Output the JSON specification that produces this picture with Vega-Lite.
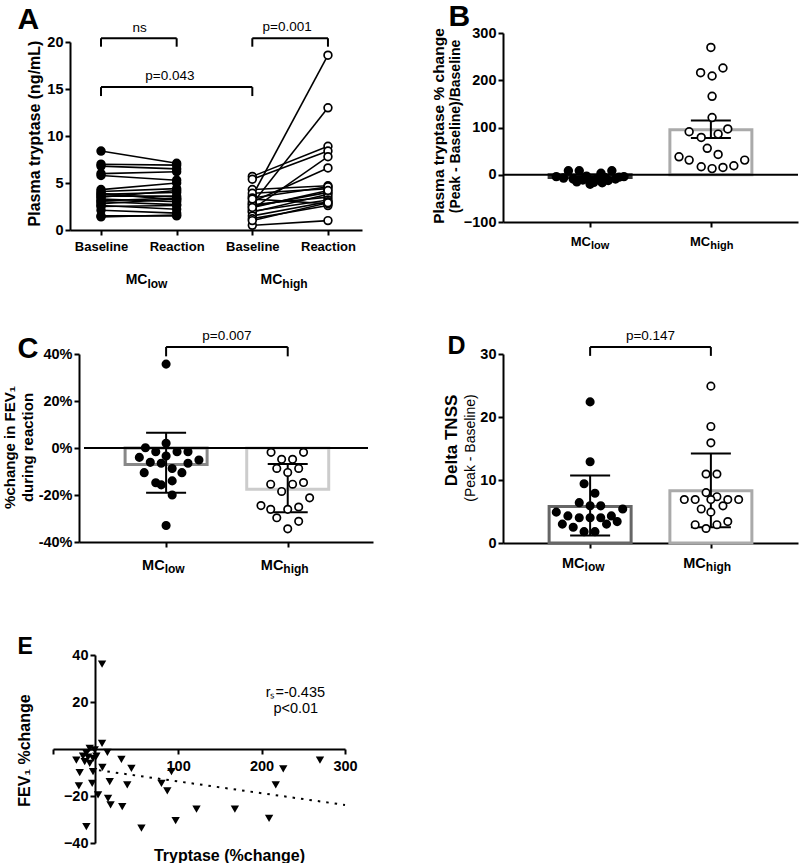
{
"$schema": "https://vega.github.io/schema/vega-lite/v6.json",
"padding": {"left": 2, "top": 1, "right": 0, "bottom": 0},
"config": {
  "font": "Liberation Sans",
  "view": {"stroke": null},
  "axis": {"grid": false, "domainColor": "#000", "domainWidth": 2, "tickColor": "#000", "tickWidth": 2, "tickSize": 5, "labelColor": "#000", "labelFont": "Liberation Sans", "labelFontSize": 14.5, "labelFontWeight": "bold", "labelPadding": 2, "labelFlush": false, "labelOverlap": false, "titleColor": "#000", "titleFont": "Liberation Sans", "titleFontWeight": "bold", "titleFontSize": 16},
  "text": {"font": "Liberation Sans", "fontSize": 13.5, "color": "#000"}
},
"datasets": {
  "A": [
    {"s":"L1","g":"low","p":1,"v":8.4},{"s":"L1","g":"low","p":2,"v":7.1},
    {"s":"L2","g":"low","p":1,"v":7.0},{"s":"L2","g":"low","p":2,"v":6.9},
    {"s":"L3","g":"low","p":1,"v":6.8},{"s":"L3","g":"low","p":2,"v":6.5},
    {"s":"L4","g":"low","p":1,"v":6.0},{"s":"L4","g":"low","p":2,"v":6.2},
    {"s":"L5","g":"low","p":1,"v":5.8},{"s":"L5","g":"low","p":2,"v":5.3},
    {"s":"L6","g":"low","p":1,"v":4.3},{"s":"L6","g":"low","p":2,"v":5.0},
    {"s":"L7","g":"low","p":1,"v":4.1},{"s":"L7","g":"low","p":2,"v":4.4},
    {"s":"L8","g":"low","p":1,"v":3.9},{"s":"L8","g":"low","p":2,"v":3.2},
    {"s":"L9","g":"low","p":1,"v":3.8},{"s":"L9","g":"low","p":2,"v":4.0},
    {"s":"L10","g":"low","p":1,"v":3.6},{"s":"L10","g":"low","p":2,"v":3.6},
    {"s":"L11","g":"low","p":1,"v":3.5},{"s":"L11","g":"low","p":2,"v":4.2},
    {"s":"L12","g":"low","p":1,"v":3.3},{"s":"L12","g":"low","p":2,"v":3.0},
    {"s":"L13","g":"low","p":1,"v":3.1},{"s":"L13","g":"low","p":2,"v":3.4},
    {"s":"L14","g":"low","p":1,"v":3.0},{"s":"L14","g":"low","p":2,"v":2.7},
    {"s":"L15","g":"low","p":1,"v":2.8},{"s":"L15","g":"low","p":2,"v":3.3},
    {"s":"L16","g":"low","p":1,"v":2.6},{"s":"L16","g":"low","p":2,"v":2.2},
    {"s":"L17","g":"low","p":1,"v":2.5},{"s":"L17","g":"low","p":2,"v":2.6},
    {"s":"L18","g":"low","p":1,"v":2.1},{"s":"L18","g":"low","p":2,"v":1.8},
    {"s":"L19","g":"low","p":1,"v":1.5},{"s":"L19","g":"low","p":2,"v":1.5},
    {"s":"L20","g":"low","p":1,"v":1.4},{"s":"L20","g":"low","p":2,"v":1.6},
    {"s":"H1","g":"high","p":3,"v":3.6},{"s":"H1","g":"high","p":4,"v":18.6},
    {"s":"H2","g":"high","p":3,"v":2.8},{"s":"H2","g":"high","p":4,"v":13.0},
    {"s":"H3","g":"high","p":3,"v":5.7},{"s":"H3","g":"high","p":4,"v":8.9},
    {"s":"H4","g":"high","p":3,"v":5.4},{"s":"H4","g":"high","p":4,"v":8.4},
    {"s":"H5","g":"high","p":3,"v":2.2},{"s":"H5","g":"high","p":4,"v":7.8},
    {"s":"H6","g":"high","p":3,"v":3.0},{"s":"H6","g":"high","p":4,"v":6.6},
    {"s":"H7","g":"high","p":3,"v":4.3},{"s":"H7","g":"high","p":4,"v":4.7},
    {"s":"H8","g":"high","p":3,"v":3.9},{"s":"H8","g":"high","p":4,"v":4.4},
    {"s":"H9","g":"high","p":3,"v":2.5},{"s":"H9","g":"high","p":4,"v":4.0},
    {"s":"H10","g":"high","p":3,"v":3.4},{"s":"H10","g":"high","p":4,"v":4.6},
    {"s":"H11","g":"high","p":3,"v":1.9},{"s":"H11","g":"high","p":4,"v":3.8},
    {"s":"H12","g":"high","p":3,"v":2.7},{"s":"H12","g":"high","p":4,"v":3.5},
    {"s":"H13","g":"high","p":3,"v":2.0},{"s":"H13","g":"high","p":4,"v":3.2},
    {"s":"H14","g":"high","p":3,"v":1.5},{"s":"H14","g":"high","p":4,"v":3.0},
    {"s":"H15","g":"high","p":3,"v":1.2},{"s":"H15","g":"high","p":4,"v":2.6},
    {"s":"H16","g":"high","p":3,"v":3.3},{"s":"H16","g":"high","p":4,"v":2.8},
    {"s":"H17","g":"high","p":3,"v":0.5},{"s":"H17","g":"high","p":4,"v":1.0},
    {"s":"H18","g":"high","p":3,"v":2.4},{"s":"H18","g":"high","p":4,"v":4.2},
    {"s":"H19","g":"high","p":3,"v":1.0},{"s":"H19","g":"high","p":4,"v":2.9}
  ],
  "brA": [
    {"x":1,"x2":2,"y":20.4,"y2":20.4},{"x":1,"x2":1,"y":20.4,"y2":19.5},{"x":2,"x2":2,"y":20.4,"y2":19.5},
    {"x":3,"x2":4,"y":20.4,"y2":20.4},{"x":3,"x2":3,"y":20.4,"y2":19.5},{"x":4,"x2":4,"y":20.4,"y2":19.5},
    {"x":1,"x2":3,"y":15.2,"y2":15.2},{"x":1,"x2":1,"y":15.2,"y2":14.25},{"x":3,"x2":3,"y":15.2,"y2":14.25}
  ],
  "txA": [
    {"x":1.51,"y":21.06,"t":"ns"},{"x":3.46,"y":21.2,"t":"p=0.001"},{"x":1.91,"y":15.96,"t":"p=0.043"}
  ],
  "barB": [{"g":1,"m":-6,"lo":-8,"hi":-4},{"g":2,"m":95,"lo":78,"hi":115}],
  "ptB": [
    {"g":1,"x":0.72,"y":-4},{"g":1,"x":0.78,"y":-7},{"g":1,"x":0.82,"y":8.5},{"g":1,"x":0.86,"y":-9},{"g":1,"x":0.91,"y":8.5},
    {"g":1,"x":0.94,"y":-11},{"g":1,"x":0.97,"y":-3},{"g":1,"x":1.0,"y":-14},{"g":1,"x":1.0,"y":-20},{"g":1,"x":1.03,"y":-16},
    {"g":1,"x":1.06,"y":-8},{"g":1,"x":1.09,"y":3},{"g":1,"x":1.12,"y":-6},{"g":1,"x":1.15,"y":-12},{"g":1,"x":1.18,"y":8.5},
    {"g":1,"x":1.21,"y":-9},{"g":1,"x":1.24,"y":-5},{"g":1,"x":1.28,"y":-4},{"g":1,"x":0.89,"y":-15},{"g":1,"x":1.1,"y":-17},
    {"g":2,"x":2.0,"y":269.5},{"g":2,"x":1.915,"y":216},{"g":2,"x":2.01,"y":209},{"g":2,"x":2.1,"y":226},{"g":2,"x":2.01,"y":166},
    {"g":2,"x":2.01,"y":121},{"g":2,"x":1.82,"y":91},{"g":2,"x":2.14,"y":97},{"g":2,"x":1.92,"y":79},{"g":2,"x":2.06,"y":86},
    {"g":2,"x":1.97,"y":56},{"g":2,"x":2.06,"y":43},{"g":2,"x":1.736,"y":38},{"g":2,"x":1.82,"y":31},{"g":2,"x":2.28,"y":31},
    {"g":2,"x":1.92,"y":17},{"g":2,"x":2.01,"y":13},{"g":2,"x":2.1,"y":15.5},{"g":2,"x":2.19,"y":19}
  ],
  "barC": [{"g":1,"m":-7,"lo":-19,"hi":6.5},{"g":2,"m":-17.6,"lo":-27.3,"hi":-6.8}],
  "ptC": [
    {"g":1,"x":1.0,"y":35.7},{"g":1,"x":1.0,"y":2.0},{"g":1,"x":0.83,"y":0.1},{"g":1,"x":0.915,"y":-1.6},{"g":1,"x":1.09,"y":-1.6},
    {"g":1,"x":1.18,"y":-1.6},{"g":1,"x":0.78,"y":-4.0},{"g":1,"x":1.0,"y":-3.4},{"g":1,"x":1.27,"y":-5.1},{"g":1,"x":0.87,"y":-6.1},
    {"g":1,"x":0.96,"y":-6.5},{"g":1,"x":1.18,"y":-6.5},{"g":1,"x":1.05,"y":-8.7},{"g":1,"x":0.82,"y":-10.5},{"g":1,"x":1.13,"y":-10.5},
    {"g":1,"x":0.915,"y":-14.8},{"g":1,"x":0.96,"y":-15.7},{"g":1,"x":1.05,"y":-14.0},{"g":1,"x":1.05,"y":-20.0},{"g":1,"x":1.0,"y":-33.0},
    {"g":2,"x":1.863,"y":-1.85},{"g":2,"x":2.13,"y":-1.85},{"g":2,"x":1.95,"y":-4.8},{"g":2,"x":2.04,"y":-4.8},{"g":2,"x":1.91,"y":-8.7},
    {"g":2,"x":2.09,"y":-8.7},{"g":2,"x":2.0,"y":-10.4},{"g":2,"x":1.86,"y":-15.4},{"g":2,"x":2.04,"y":-15.4},{"g":2,"x":2.13,"y":-14.7},
    {"g":2,"x":1.95,"y":-18.5},{"g":2,"x":2.18,"y":-21.2},{"g":2,"x":1.78,"y":-24.5},{"g":2,"x":1.86,"y":-26.1},{"g":2,"x":2.0,"y":-26.1},
    {"g":2,"x":2.09,"y":-25.1},{"g":2,"x":1.91,"y":-29.7},{"g":2,"x":2.09,"y":-31.2},{"g":2,"x":2.0,"y":-34.4}
  ],
  "brC": [{"x":1,"x2":2,"y":43,"y2":43},{"x":1,"x2":1,"y":43,"y2":39},{"x":2,"x2":2,"y":43,"y2":39}],
  "txC": [{"x":1.5,"y":46,"t":"p=0.007"}],
  "barD": [{"g":1,"m":5.8,"lo":1.2,"hi":10.7},{"g":2,"m":8.3,"lo":2.5,"hi":14.2}],
  "ptD": [
    {"g":1,"x":1.0,"y":22.4},{"g":1,"x":1.0,"y":12.9},{"g":1,"x":0.95,"y":9.4},{"g":1,"x":1.04,"y":7.9},{"g":1,"x":0.91,"y":6.4},
    {"g":1,"x":1.0,"y":5.9},{"g":1,"x":1.088,"y":5.9},{"g":1,"x":1.27,"y":5.4},{"g":1,"x":0.72,"y":4.9},{"g":1,"x":0.816,"y":4.3},
    {"g":1,"x":0.91,"y":4.0},{"g":1,"x":1.0,"y":4.0},{"g":1,"x":1.088,"y":4.0},{"g":1,"x":1.176,"y":4.3},{"g":1,"x":0.77,"y":3.0},
    {"g":1,"x":0.86,"y":2.5},{"g":1,"x":1.136,"y":3.0},{"g":1,"x":1.224,"y":3.4},{"g":1,"x":0.95,"y":1.8},{"g":1,"x":1.04,"y":1.8},
    {"g":2,"x":2.0,"y":24.9},{"g":2,"x":2.0,"y":18.5},{"g":2,"x":2.0,"y":15.9},{"g":2,"x":1.96,"y":10.95},{"g":2,"x":2.05,"y":10.95},
    {"g":2,"x":1.96,"y":8.0},{"g":2,"x":2.05,"y":7.35},{"g":2,"x":1.78,"y":6.9},{"g":2,"x":1.87,"y":6.9},{"g":2,"x":2.0,"y":6.9},
    {"g":2,"x":2.14,"y":6.9},{"g":2,"x":2.23,"y":6.9},{"g":2,"x":1.92,"y":5.4},{"g":2,"x":2.0,"y":4.9},{"g":2,"x":2.1,"y":5.9},
    {"g":2,"x":1.87,"y":2.9},{"g":2,"x":1.96,"y":2.3},{"g":2,"x":2.05,"y":2.9},{"g":2,"x":2.14,"y":3.4}
  ],
  "brD": [{"x":1,"x2":2,"y":31.1,"y2":31.1},{"x":1,"x2":1,"y":31.1,"y2":29.7},{"x":2,"x2":2,"y":31.1,"y2":29.7}],
  "txD": [{"x":1.5,"y":32.2,"t":"p=0.147"}],
  "ptE": [
    {"x":8.8,"y":36.1},{"x":8.8,"y":2.4},{"x":-6,"y":0.3},{"x":-10,"y":-1.8},{"x":-14,"y":-3.0},{"x":15.2,"y":-1.4},
    {"x":-22,"y":-4.7},{"x":32,"y":-4.4},{"x":-18,"y":-10.1},{"x":9.2,"y":-7.8},{"x":44,"y":-8.2},{"x":-2,"y":-9.6},
    {"x":92,"y":-9.6},{"x":226,"y":-8.5},{"x":270,"y":-4.7},{"x":-19,"y":-15.7},{"x":-3,"y":-14.6},{"x":18,"y":-13.9},
    {"x":39,"y":-15.3},{"x":80,"y":-14.6},{"x":87,"y":-17.8},{"x":217,"y":-15.3},{"x":4,"y":-19.5},{"x":16,"y":-21},
    {"x":19,"y":-23.8},{"x":33,"y":-24.5},{"x":122,"y":-25.6},{"x":168,"y":-25.6},{"x":209,"y":-29.5},{"x":97,"y":-30.5},
    {"x":56,"y":-33.7},{"x":-10,"y":-33},{"x":-2,"y":-4.0},{"x":-6,"y":-6.1},{"x":-12,"y":-5.4},{"x":0,"y":-0.4},
    {"x":-8,"y":-3.5},{"x":2,"y":-3.0}
  ],
  "fitE": [{"x":-5,"y":-8.55},{"x":300,"y":-23.8}],
  "txE": [{"x":240.5,"y":22.1,"t":"rₛ=-0.435"},{"x":241,"y":15.3,"t":"p<0.01"}]
},
"columns": 2,
"spacing": {"row": 100, "column": 130},
"align": "each",
"bounds": "flush",
"concat": [
 {
  "width": 309, "height": 197,
  "resolve": {"axis": {"x": "independent", "y": "independent"}},
  "layer": [
   {"data": {"name": "A"},
    "mark": {"type": "line", "color": "#000", "strokeWidth": 1.6},
    "encoding": {
     "x": {"field": "p", "type": "quantitative", "scale": {"domain": [0.59, 4.45], "range": [17, 309], "nice": false, "zero": false},
       "axis": {"orient": "bottom", "values": [1,2,3,4], "labelExpr": "datum.value % 2 == 1 ? 'Baseline' : 'Reaction'", "labelFontSize": 13, "labelPadding": 5, "title": null}},
     "y": {"field": "v", "type": "quantitative", "scale": {"domain": [0, 20], "range": [197, 9], "nice": false, "zero": false},
       "axis": {"orient": "left", "offset": -17, "values": [0,5,10,15,20], "title": "Plasma tryptase (ng/mL)", "titleAngle": 270, "titleX": -30.5, "titleY": 100, "titleAlign": "center", "titleBaseline": "alphabetic", "titleFontSize": 16}},
     "detail": {"field": "s"}
    }},
   {"data": {"name": "brA"},
    "mark": {"type": "rule", "color": "#000", "strokeWidth": 2},
    "encoding": {
     "x": {"field": "x", "type": "quantitative", "axis": {"orient": "bottom", "values": [1.607, 3.39], "labelExpr": "'MC'", "domain": false, "ticks": false, "tickSize": 0, "labelAlign": "right", "labelBaseline": "alphabetic", "labelPadding": 53, "labelFontSize": 14, "title": "A", "titleAngle": 0, "titleX": -36, "titleY": -202, "titleAlign": "left", "titleBaseline": "alphabetic", "titleFontSize": 30}},
     "x2": {"field": "x2"},
     "y": {"field": "y", "type": "quantitative", "axis": null},
     "y2": {"field": "y2"}
    }},
   {"data": {"name": "A"},
    "mark": {"type": "circle", "size": 60, "stroke": "#000", "strokeWidth": 1.7, "opacity": 1},
    "encoding": {
     "x": {"field": "p", "type": "quantitative", "axis": {"orient": "bottom", "values": [1.607, 3.39], "labelExpr": "datum.value < 2.5 ? 'low' : 'high'", "domain": false, "ticks": false, "tickSize": 0, "labelAlign": "left", "labelDx": 1, "labelBaseline": "alphabetic", "labelPadding": 57, "labelFontSize": 12, "title": null}},
     "y": {"field": "v", "type": "quantitative", "axis": null},
     "fill": {"condition": {"test": "datum.g == 'low'", "value": "#000"}, "value": "#fff"}
    }},
   {"data": {"name": "txA"},
    "mark": {"type": "text", "baseline": "alphabetic", "align": "center", "fontSize": 13.5},
    "encoding": {"x": {"field": "x", "type": "quantitative", "axis": null}, "y": {"field": "y", "type": "quantitative", "axis": null}, "text": {"field": "t"}}}
  ]
 },
 {
  "width": 295, "height": 189,
  "resolve": {"axis": {"x": "independent", "y": "independent"}},
  "layer": [
   {"data": {"name": "barB"},
    "mark": {"type": "bar", "width": 82, "fill": "#fff", "strokeWidth": 3, "opacity": 1},
    "encoding": {
     "x": {"field": "g", "type": "quantitative", "scale": {"domain": [0.32, 2.68], "nice": false, "zero": false}, "axis": {"orient": "bottom", "values": [1, 2], "labels": false, "title": null}},
     "y": {"field": "m", "type": "quantitative", "scale": {"domain": [-100, 300], "nice": false, "zero": false},
       "axis": {"orient": "left", "values": [-100, 0, 100, 200, 300], "title": "Plasma tryptase % change", "titleAngle": 270, "titleX": -60, "titleY": 92.5, "titleAlign": "center", "titleBaseline": "alphabetic", "titleFontSize": 15.5}},
     "y2": {"datum": 0},
     "stroke": {"condition": {"test": "datum.g == 1", "value": "#333"}, "value": "#aaa"}
    }},
   {"data": {"values": [{}]},
    "mark": {"type": "rule", "color": "#000", "strokeWidth": 2},
    "encoding": {"y": {"datum": 0, "type": "quantitative", "axis": null}}},
   {"data": {"name": "barB"},
    "mark": {"type": "rule", "color": "#000", "strokeWidth": 2},
    "encoding": {
     "x": {"field": "g", "type": "quantitative", "axis": {"orient": "bottom", "values": [1.0025, 1.99], "labelExpr": "'MC'", "domain": false, "ticks": false, "tickSize": 0, "labelAlign": "right", "labelBaseline": "alphabetic", "labelPadding": 23, "labelFontSize": 13, "title": null}},
     "y": {"field": "lo", "type": "quantitative", "axis": {"orient": "left", "domain": false, "ticks": false, "tickSize": 0, "labels": false, "title": "(Peak - Baseline)/Baseline", "titleAngle": 270, "titleX": -44, "titleY": 93, "titleAlign": "center", "titleBaseline": "alphabetic", "titleFontSize": 14}},
     "y2": {"field": "hi"}
    }},
   {"data": {"name": "barB"},
    "mark": {"type": "tick", "orient": "horizontal", "size": 40, "thickness": 2, "color": "#000", "opacity": 1},
    "encoding": {
     "x": {"field": "g", "type": "quantitative", "axis": {"orient": "bottom", "values": [1.0025, 1.99], "labelExpr": "datum.value < 1.5 ? 'low' : 'high'", "domain": false, "ticks": false, "tickSize": 0, "labelAlign": "left", "labelDx": 1, "labelBaseline": "alphabetic", "labelPadding": 26, "labelFontSize": 11, "title": "B", "titleAngle": 0, "titleX": -55, "titleY": -197, "titleAlign": "left", "titleBaseline": "alphabetic", "titleFontSize": 30}},
     "y": {"field": "lo", "type": "quantitative", "axis": null}
    }},
   {"data": {"name": "barB"},
    "mark": {"type": "tick", "orient": "horizontal", "size": 40, "thickness": 2, "color": "#000", "opacity": 1},
    "encoding": {
     "x": {"field": "g", "type": "quantitative", "axis": null},
     "y": {"field": "hi", "type": "quantitative", "axis": null}
    }},
   {"data": {"name": "ptB"},
    "mark": {"type": "circle", "size": 60, "stroke": "#000", "strokeWidth": 1.7, "opacity": 1},
    "encoding": {
     "x": {"field": "x", "type": "quantitative", "axis": null},
     "y": {"field": "y", "type": "quantitative", "axis": null},
     "fill": {"condition": {"test": "datum.g == 1", "value": "#000"}, "value": "#fff"}
    }}
  ]
 },
 {
  "width": 320, "height": 212,
  "resolve": {"axis": {"x": "independent", "y": "independent"}},
  "layer": [
   {"data": {"name": "barC"},
    "mark": {"type": "bar", "width": 82, "fill": "#fff", "strokeWidth": 3, "opacity": 1},
    "encoding": {
     "x": {"field": "g", "type": "quantitative", "scale": {"domain": [0.325, 2.66], "range": [26, 320], "nice": false, "zero": false}, "axis": {"orient": "bottom", "values": [1, 2], "labels": false, "title": null}},
     "y": {"field": "m", "type": "quantitative", "scale": {"domain": [-40, 40], "range": [212, 24], "nice": false, "zero": false},
       "axis": {"orient": "left", "offset": -26, "values": [-40, -20, 0, 20, 40], "labelExpr": "datum.value + '%'", "title": ["%change in FEV₁", "during reaction"], "titleAngle": 270, "titleX": -65, "titleY": 117, "titleAlign": "center", "titleBaseline": "alphabetic", "titleFontSize": 15, "titleLineHeight": 18}},
     "y2": {"datum": 0},
     "stroke": {"condition": {"test": "datum.g == 1", "value": "#888"}, "value": "#ccc"}
    }},
   {"data": {"values": [{}]},
    "mark": {"type": "rule", "color": "#000", "strokeWidth": 2},
    "encoding": {"x": {"datum": 0.325, "type": "quantitative", "axis": null}, "x2": {"datum": 2.66}, "y": {"datum": 0, "type": "quantitative", "axis": null}}},
   {"data": {"name": "barC"},
    "mark": {"type": "rule", "color": "#000", "strokeWidth": 2},
    "encoding": {
     "x": {"field": "g", "type": "quantitative", "axis": {"orient": "bottom", "values": [0.984, 1.96], "labelExpr": "'MC'", "domain": false, "ticks": false, "tickSize": 0, "labelAlign": "right", "labelBaseline": "alphabetic", "labelPadding": 27, "labelFontSize": 14.5, "title": null}},
     "y": {"field": "lo", "type": "quantitative", "axis": null},
     "y2": {"field": "hi"}
    }},
   {"data": {"name": "barC"},
    "mark": {"type": "tick", "orient": "horizontal", "size": 40, "thickness": 2, "color": "#000", "opacity": 1},
    "encoding": {
     "x": {"field": "g", "type": "quantitative", "axis": {"orient": "bottom", "values": [0.984, 1.96], "labelExpr": "datum.value < 1.5 ? 'low' : 'high'", "domain": false, "ticks": false, "tickSize": 0, "labelAlign": "left", "labelDx": 1, "labelBaseline": "alphabetic", "labelPadding": 30, "labelFontSize": 12, "title": "C", "titleAngle": 0, "titleX": -36, "titleY": -185, "titleAlign": "left", "titleBaseline": "alphabetic", "titleFontSize": 29}},
     "y": {"field": "lo", "type": "quantitative", "axis": null}
    }},
   {"data": {"name": "barC"},
    "mark": {"type": "tick", "orient": "horizontal", "size": 40, "thickness": 2, "color": "#000", "opacity": 1},
    "encoding": {
     "x": {"field": "g", "type": "quantitative", "axis": null},
     "y": {"field": "hi", "type": "quantitative", "axis": null}
    }},
   {"data": {"name": "ptC"},
    "mark": {"type": "circle", "size": 55, "stroke": "#000", "strokeWidth": 1.7, "opacity": 1},
    "encoding": {
     "x": {"field": "x", "type": "quantitative", "axis": null},
     "y": {"field": "y", "type": "quantitative", "axis": null},
     "fill": {"condition": {"test": "datum.g == 1", "value": "#000"}, "value": "#fff"}
    }},
   {"data": {"name": "brC"},
    "mark": {"type": "rule", "color": "#000", "strokeWidth": 2},
    "encoding": {"x": {"field": "x", "type": "quantitative", "axis": null}, "x2": {"field": "x2"}, "y": {"field": "y", "type": "quantitative", "axis": null}, "y2": {"field": "y2"}}},
   {"data": {"name": "txC"},
    "mark": {"type": "text", "baseline": "alphabetic", "align": "center", "fontSize": 13.5},
    "encoding": {"x": {"field": "x", "type": "quantitative", "axis": null}, "y": {"field": "y", "type": "quantitative", "axis": null}, "text": {"field": "t"}}}
  ]
 },
 {
  "width": 295, "height": 213,
  "resolve": {"axis": {"x": "independent", "y": "independent"}},
  "layer": [
   {"data": {"name": "barD"},
    "mark": {"type": "bar", "width": 82, "fill": "#fff", "strokeWidth": 3, "opacity": 1},
    "encoding": {
     "x": {"field": "g", "type": "quantitative", "scale": {"domain": [0.32, 2.68], "nice": false, "zero": false}, "axis": {"orient": "bottom", "values": [1, 2], "labels": false, "title": null}},
     "y": {"field": "m", "type": "quantitative", "scale": {"domain": [0, 30], "range": [213, 24], "nice": false, "zero": false},
       "axis": {"orient": "left", "values": [0, 10, 20, 30], "title": "Delta TNSS", "titleAngle": 270, "titleX": -47, "titleY": 110, "titleAlign": "center", "titleBaseline": "alphabetic", "titleFontSize": 17}},
     "y2": {"datum": 0},
     "stroke": {"condition": {"test": "datum.g == 1", "value": "#666"}, "value": "#aaa"}
    }},
   {"data": {"name": "barD"},
    "mark": {"type": "rule", "color": "#000", "strokeWidth": 2},
    "encoding": {
     "x": {"field": "g", "type": "quantitative", "axis": {"orient": "bottom", "values": [0.95, 1.954], "labelExpr": "'MC'", "domain": false, "ticks": false, "tickSize": 0, "labelAlign": "right", "labelBaseline": "alphabetic", "labelPadding": 24, "labelFontSize": 14.5, "title": null}},
     "y": {"field": "lo", "type": "quantitative", "axis": {"orient": "left", "domain": false, "ticks": false, "tickSize": 0, "labels": false, "title": "(Peak - Baseline)", "titleAngle": 270, "titleX": -29, "titleY": 117.5, "titleAlign": "center", "titleBaseline": "alphabetic", "titleFontSize": 14, "titleFontWeight": "normal"}},
     "y2": {"field": "hi"}
    }},
   {"data": {"name": "barD"},
    "mark": {"type": "tick", "orient": "horizontal", "size": 40, "thickness": 2, "color": "#000", "opacity": 1},
    "encoding": {
     "x": {"field": "g", "type": "quantitative", "axis": {"orient": "bottom", "values": [0.95, 1.954], "labelExpr": "datum.value < 1.5 ? 'low' : 'high'", "domain": false, "ticks": false, "tickSize": 0, "labelAlign": "left", "labelDx": 1, "labelBaseline": "alphabetic", "labelPadding": 27, "labelFontSize": 12, "title": "D", "titleAngle": 0, "titleX": -56, "titleY": -190, "titleAlign": "left", "titleBaseline": "alphabetic", "titleFontSize": 25}},
     "y": {"field": "lo", "type": "quantitative", "axis": null}
    }},
   {"data": {"name": "barD"},
    "mark": {"type": "tick", "orient": "horizontal", "size": 40, "thickness": 2, "color": "#000", "opacity": 1},
    "encoding": {
     "x": {"field": "g", "type": "quantitative", "axis": null},
     "y": {"field": "hi", "type": "quantitative", "axis": null}
    }},
   {"data": {"name": "ptD"},
    "mark": {"type": "circle", "size": 55, "stroke": "#000", "strokeWidth": 1.7, "opacity": 1},
    "encoding": {
     "x": {"field": "x", "type": "quantitative", "axis": null},
     "y": {"field": "y", "type": "quantitative", "axis": null},
     "fill": {"condition": {"test": "datum.g == 1", "value": "#000"}, "value": "#fff"}
    }},
   {"data": {"name": "brD"},
    "mark": {"type": "rule", "color": "#000", "strokeWidth": 2},
    "encoding": {"x": {"field": "x", "type": "quantitative", "axis": null}, "x2": {"field": "x2"}, "y": {"field": "y", "type": "quantitative", "axis": null}, "y2": {"field": "y2"}}},
   {"data": {"name": "txD"},
    "mark": {"type": "text", "baseline": "alphabetic", "align": "center", "fontSize": 13.5},
    "encoding": {"x": {"field": "x", "type": "quantitative", "axis": null}, "y": {"field": "y", "type": "quantitative", "axis": null}, "text": {"field": "t"}}}
  ]
 },
 {
  "width": 292, "height": 200,
  "resolve": {"axis": {"x": "independent", "y": "independent"}},
  "layer": [
   {"data": {"name": "ptE"},
    "mark": {"type": "point", "shape": "triangle-down", "filled": true, "size": 70, "color": "#000", "opacity": 1},
    "encoding": {
     "x": {"field": "x", "type": "quantitative", "scale": {"domain": [-50, 300], "nice": false, "zero": false},
       "axis": {"orient": "bottom", "offset": -94, "values": [-50, 100, 200, 300], "labelExpr": "datum.value < 0 ? '' : datum.label", "labelPadding": 5, "title": "Tryptase (%change)", "titleAngle": 0, "titleX": 176, "titleY": 111, "titleAlign": "center", "titleBaseline": "alphabetic", "titleFontSize": 16}},
     "y": {"field": "y", "type": "quantitative", "scale": {"domain": [-40, 40], "range": [200, 12], "nice": false, "zero": false},
       "axis": {"orient": "left", "offset": -42, "values": [-40, -20, 0, 20, 40], "labelExpr": "datum.value == 0 ? '' : datum.label", "title": "FEV₁ %change", "titleAngle": 270, "titleX": -65.5, "titleY": 107, "titleAlign": "center", "titleBaseline": "alphabetic", "titleFontSize": 16}}
    }},
   {"data": {"name": "fitE"},
    "mark": {"type": "line", "color": "#000", "strokeWidth": 2, "strokeDash": [2.5, 6]},
    "encoding": {
     "x": {"field": "x", "type": "quantitative", "axis": null},
     "y": {"field": "y", "type": "quantitative", "axis": {"orient": "left", "domain": false, "ticks": false, "tickSize": 0, "labels": false, "title": "E", "titleAngle": 0, "titleX": -36, "titleY": 10, "titleAlign": "left", "titleBaseline": "alphabetic", "titleFontSize": 23}}
    }},
   {"data": {"name": "txE"},
    "mark": {"type": "text", "baseline": "alphabetic", "align": "center", "fontSize": 14.5},
    "encoding": {"x": {"field": "x", "type": "quantitative", "axis": null}, "y": {"field": "y", "type": "quantitative", "axis": null}, "text": {"field": "t"}}}
  ]
 }
]
}
